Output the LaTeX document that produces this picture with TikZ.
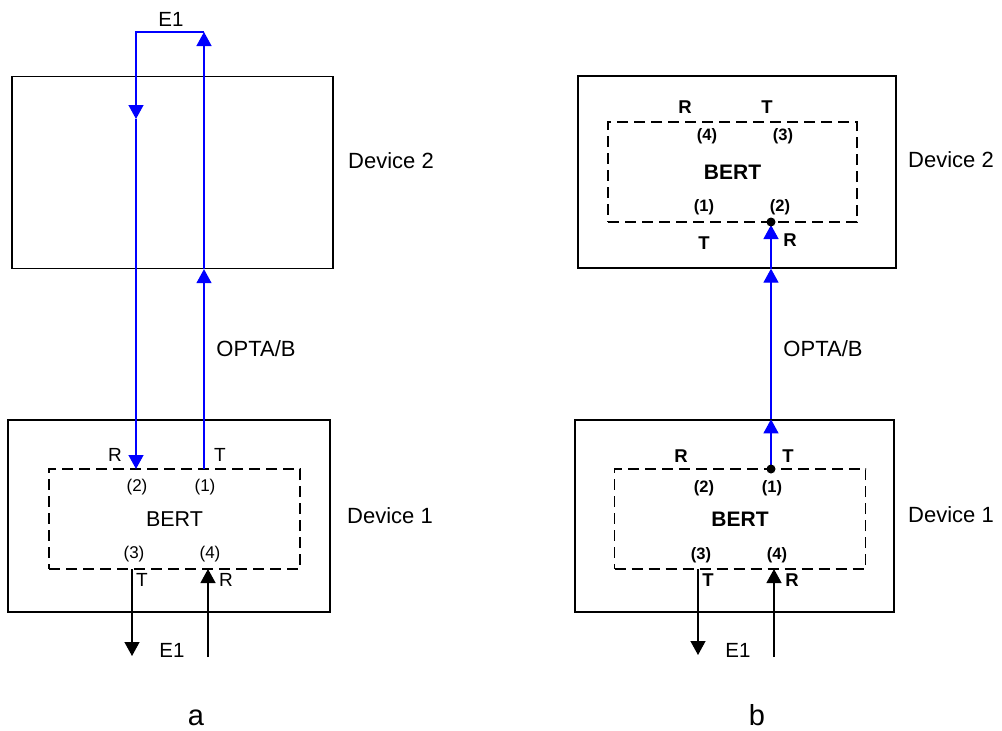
\documentclass[tikz,border=0pt]{standalone}
\usepackage{fontspec}
\setmainfont{Liberation Sans}
\usetikzlibrary{arrows.meta,positioning}

\begin{document}
\begin{tikzpicture}[
    x=1pt, y=-1pt,
    device/.style={rectangle, draw, line width=1.3pt, minimum width=320pt, minimum height=192pt, inner sep=0pt},
    bert/.style={rectangle, draw, dash pattern=on 11pt off 6pt, line width=1.3pt, minimum width=251pt, minimum height=100pt, inner sep=0pt, font=\fontsize{21.5}{24}\selectfont},
    lbl/.style={inner sep=0pt, font=\fontsize{22}{25}\selectfont},
    side/.style={inner sep=0pt, font=\fontsize{19}{22}\selectfont},
    port/.style={inner sep=0pt, font=\fontsize{17}{20}\selectfont},
    panel/.style={inner sep=0pt, font=\fontsize{29}{32}\selectfont},
    bold/.style={font=\fontsize{#1}{#1}\selectfont\bfseries},
    tip/.style={-{Triangle[length=14pt,width=15pt]}},
    bluewire/.style={draw, blue, line width=1.3pt},
    blackwire/.style={draw, black, line width=1.3pt},
    dot/.style={circle, fill, inner sep=0pt, minimum size=9pt}
]
    \useasboundingbox (0,0) rectangle (1002,731);

    % --- Panel a: loop on Device 2 ---
    \node [device, minimum width=321pt] (devA2) at (172.5,172.5) {};
    \node [device, minimum width=322pt] (devA1) at (169,516) {};
    \node [bert] (bertA) at (174.5,519) {BERT};

    \coordinate (pA1) at (204,469);
    \coordinate (pA2) at (136,469);
    \coordinate (pA3) at (132,569);
    \coordinate (pA4) at (208,569);
    \coordinate (loopR) at (204,32);
    \coordinate (loopL) at (136,32);
    \coordinate (midA) at (136,119);
    \coordinate (outA) at (132,656);
    \coordinate (inA) at (208,657);

    \path [bluewire, tip] (pA1) -- (pA1 |- devA2.south);
    \path [bluewire, tip] (pA1 |- devA2.south) -- (loopR);
    \path [bluewire, tip] (loopR) -- (loopL) -- (midA);
    \path [bluewire, tip] (midA) -- (pA2);
    \path [blackwire, tip] (pA3) -- (outA);
    \path [blackwire, tip] (inA) -- (pA4);

    \node [side] (rA1) at (115,455) {R};
    \node [side] (tA1) at (220,455) {T};
    \node [port] (nA2) at (137,487) {(2)};
    \node [port] (nA1) at (205,487) {(1)};
    \node [port] (nA3) at (134,554) {(3)};
    \node [port] (nA4) at (210,554) {(4)};
    \node [side] (tA3) at (142,580) {T};
    \node [side] (rA4) at (226,580) {R};
    \node [lbl, font=\fontsize{20.5}{23}\selectfont] (e1A) at (172,650) {E1};
    \node [lbl, font=\fontsize{20.5}{23}\selectfont] (e1loop) at (171,19) {E1};
    \node [lbl] (optA) at (256,349) {OPTA/B};
    \node [lbl] (nameA2) at (391,161) {Device 2};
    \node [lbl] (nameA1) at (390,516) {Device 1};
    \node [panel] (capA) at (196,718) {a};

    % --- Panel b: BERT on both devices ---
    \node [device, minimum width=318pt] (devB2) at (737,172) {};
    \node [device, minimum width=319pt] (devB1) at (734.5,516) {};
    \node [bert, bold=21, minimum width=249pt] (bertB2) at (732.5,172) {BERT};
    \node [bert, bold=21] (bertB1) at (740,519) {BERT};

    \coordinate (pB1) at (771,469);
    \coordinate (pB2) at (771,222);
    \coordinate (pB3) at (698,569);
    \coordinate (pB4) at (774,569);
    \coordinate (outB) at (698,655);
    \coordinate (inB) at (774,657);

    \path [bluewire, tip] (pB1) -- (pB1 |- devB1.north);
    \path [bluewire, tip] (pB1 |- devB1.north) -- (pB1 |- devB2.south);
    \path [bluewire, tip, shorten >=3pt] (pB1 |- devB2.south) -- (pB2);
    \path [blackwire, tip] (pB3) -- (outB);
    \path [blackwire, tip] (inB) -- (pB4);

    \node [dot] (dotB1) at (pB1) {};
    \node [dot] (dotB2) at (pB2) {};

    \node [side, bold=18.5] (rB2) at (685,107) {R};
    \node [side, bold=18.5] (tB2) at (767,107) {T};
    \node [port, bold=16.5] (nB4) at (707,136) {(4)};
    \node [port, bold=16.5] (nB3) at (783,136) {(3)};
    \node [port, bold=16.5] (nB1) at (704,207) {(1)};
    \node [port, bold=16.5] (nB2) at (780,207) {(2)};
    \node [side, bold=18.5] (tB1) at (704,243) {T};
    \node [side, bold=18.5] (rB1) at (790,240) {R};

    \node [side, bold=18.5] (rB5) at (681,456) {R};
    \node [side, bold=18.5] (tB5) at (788,456) {T};
    \node [port, bold=16.5] (nB6) at (704,488) {(2)};
    \node [port, bold=16.5] (nB5) at (772,488) {(1)};
    \node [port, bold=16.5] (nB7) at (701,555) {(3)};
    \node [port, bold=16.5] (nB8) at (777,555) {(4)};
    \node [side, bold=18.5] (tB7) at (708,580) {T};
    \node [side, bold=18.5] (rB8) at (792,580) {R};

    \node [lbl, font=\fontsize{20.5}{23}\selectfont] (e1B) at (738,650) {E1};
    \node [lbl] (optB) at (823,349) {OPTA/B};
    \node [lbl] (nameB2) at (951,160) {Device 2};
    \node [lbl] (nameB1) at (951,515) {Device 1};
    \node [panel] (capB) at (757,715) {b};

\end{tikzpicture}
\end{document}
